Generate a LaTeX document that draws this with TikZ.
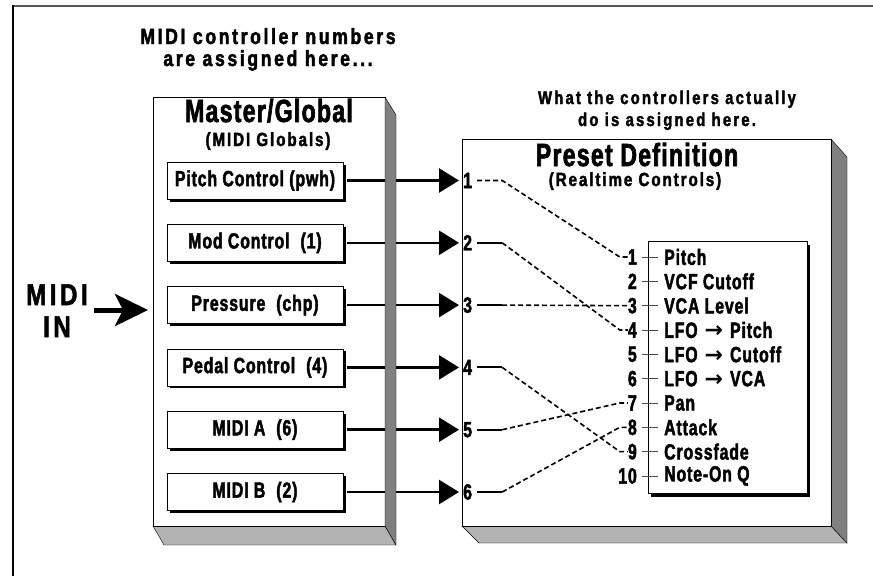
\documentclass[tikz,border=0pt]{standalone}
\usepackage{fontspec}
\setmainfont{Liberation Sans}
\newfontfamily\bodyfont{Liberation Sans}[FakeStretch=0.72,LetterSpace=4,FakeBold=2]
\newfontfamily\bigfont{Liberation Sans}[FakeStretch=0.72,LetterSpace=4,FakeBold=2]
\newfontfamily\subfont{Liberation Sans}[FakeStretch=0.8,LetterSpace=10,FakeBold=2]
\newfontfamily\headfont{Liberation Sans}[FakeStretch=0.8,LetterSpace=12,FakeBold=2]
\newfontfamily\symfont{DejaVu Sans}
\newcommand{\lfoto}[1]{LFO\hspace{7pt}{\symfont\bfseries →}\hspace{7pt}#1}
\usetikzlibrary{arrows.meta,positioning,shadows}
\definecolor{sidegray}{HTML}{808080}
\definecolor{basegray}{HTML}{B3B3B3}
\definecolor{framegray}{HTML}{555555}

\begin{document}
\begin{tikzpicture}[x=1pt,y=-1pt,
  txt/.style={inner sep=0pt,font=\bodyfont\bfseries\fontsize{22}{22}\selectfont},
  sub/.style={inner sep=0pt,anchor=base,font=\subfont\bfseries\fontsize{19}{20}\selectfont},
  head/.style={inner sep=0pt,anchor=base,font=\headfont\bfseries\fontsize{#1}{20}\selectfont},
  big/.style={inner sep=0pt,anchor=base,font=\bigfont\bfseries\fontsize{32}{34}\selectfont},
  ctrlbox/.style={txt,draw,fill=white,minimum width=176pt,minimum height=37pt,
    drop shadow={shadow xshift=2.5pt,shadow yshift=-2.5pt,opacity=1,fill=black}},
  feed/.style={line width=2.5pt,-{Triangle[length=20pt,width=24pt]},shorten <=4pt,shorten >=4pt},
  wire/.style={line width=2pt},
  dwire/.style={line width=1.6pt,dash pattern=on 5pt off 3pt},
  tick/.style={line width=0.8pt,black!70}]
\useasboundingbox (0,0) rectangle (873,576);
% outer frame
\draw[line width=2pt,framegray] (12,5.5) -- (873,5.5);
\draw[line width=2pt] (12.5,5) -- (12.5,576);

% headings
\node[head=22] (hleft1) at (268,44) {MIDI controller numbers};
\node[head=22] (hleft2) at (268,66) {are assigned here...};
\node[head=18.5] (hright1) at (667,104) {What the controllers actually};
\node[head=18.5] (hright2) at (667,126) {do is assigned here.};

% MIDI in
\node[head=30] (midi) at (57,305) {MIDI};
\node[head=30] (in) at (57,337) {IN};
\draw[line width=5pt,-{Stealth[length=33pt,width=32pt,inset=8pt]}] (94,310) -- (148,310);

% Master/Global panel
\draw[fill=basegray] (153,526) -- (164,545) -- (396,545) -- (385,526) -- cycle;
\draw[fill=white] (153,97) rectangle (385,526);
\node[big] (mg) at (269,122) {Master/Global};
\node[sub] (mgsub) at (268,146) {(MIDI Globals)};

% Preset Definition panel
\draw[fill=basegray] (462,526) -- (479,543) -- (847,543) -- (831,526) -- cycle;
\draw[fill=sidegray] (831,139) -- (847,157) -- (847,543) -- (831,526) -- cycle;
\draw[fill=white] (462,139) rectangle (831,526);
\node[big] (pd) at (637,166) {Preset Definition};
\node[sub] (pdsub) at (635,186) {(Realtime Controls)};

% controllers
\foreach \t [count=\i] in {Pitch Control (pwh),Mod Control\enspace(1),Pressure\enspace(chp),
    Pedal Control\enspace(4),MIDI A\enspace(6),MIDI B\enspace(2)}{
  \node[ctrlbox] (c\i) at (255,{180.5+(\i-1)*62.3}) {\t};
  \node[txt,anchor=west] (p\i) at (463,{180.5+(\i-1)*62.3}) {\i};
  \draw[feed] (c\i.east) -- (p\i.west);
}
\draw[fill=sidegray] (385,97) -- (396,115) -- (396,545) -- (385,526) -- cycle;

% realtime control list
\node[draw,fill=white,minimum width=159pt,minimum height=252pt,anchor=north west,
  drop shadow={shadow xshift=3pt,shadow yshift=-3.5pt,opacity=1,fill=black}] (rtlist) at (648,241) {};
\foreach \t [count=\i] in {Pitch,VCF Cutoff,VCA Level,\lfoto{Pitch},
    \lfoto{Cutoff},\lfoto{VCA},Pan,Attack,Crossfade,Note-On Q}{
  \node[txt,anchor=east] (q\i) at (637,{257+(\i-1)*24.33}) {\i};
  \node[txt,anchor=west] (l\i) at (664,{257+(\i-1)*24.33}) {\t};
  \draw[tick] ([xshift=5pt]q\i.east) -- ([xshift=-6pt]l\i.west);
}

% controller routing
\draw[dwire] ([xshift=5pt]p1.east) -- ++(25,0) -- ([xshift=-8pt]q1.west) -- (q1.west);
\foreach \i/\j in {2/4,3/3,4/9,5/7,6/8}{
  \draw[wire] ([xshift=5pt]p\i.east) -- ++(25,0) coordinate (k\i);
  \draw[dwire] (k\i) -- ([xshift=-8pt]q\j.west) -- (q\j.west);
}
\end{tikzpicture}
\end{document}
